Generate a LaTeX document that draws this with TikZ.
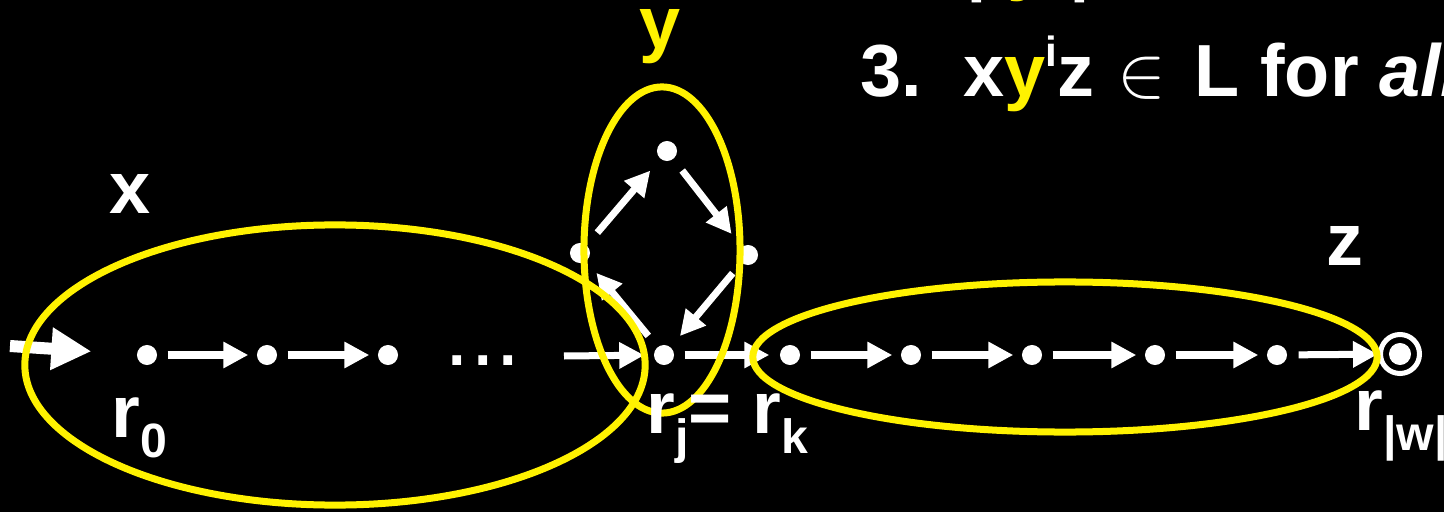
\documentclass[tikz,border=0pt]{standalone}
\usepackage{fontspec}
\setmainfont{Liberation Sans}
\usetikzlibrary{arrows.meta}
\newcommand\lowsub[1]{\raisebox{-0.2cm}{\fontsize{13.7}{14}\selectfont #1}}

\begin{document}
\begin{tikzpicture}[x=0.01cm,y=-0.01cm,
  vtx/.style={circle,fill=white,inner sep=0pt,minimum size=0.2cm},
  accept/.style={circle,draw=white,line width=0.05cm,inner sep=0pt,minimum size=0.39cm},
  arr/.style={white,line width=0.07cm,-{Triangle[length=0.25cm,width=0.25cm]}},
  ring/.style={yellow,line width=0.07cm},
  lbl/.style={text=white,inner sep=0pt,font=\fontsize{21}{25}\selectfont\bfseries}]
  \fill[black] (0,0) rectangle (1444,512);
  \useasboundingbox (0,0) rectangle (1444,512);
  % states on the path
  \node[vtx] (r0) at (147,355) {};
  \node[vtx] (q1) at (267,355) {};
  \node[vtx] (q2) at (388,355) {};
  \node[font=\fontsize{26}{26}\selectfont,text=white,inner sep=0pt,anchor=base west] (gap) at (444,365) {...};
  \coordinate (gapend) at (564,356);
  \node[vtx] (rj) at (664,355) {};
  % loop
  \node[vtx] (cl) at (580,253) {};
  \node[vtx] (ct) at (667,151) {};
  \node[vtx] (cr) at (748,255) {};
  \foreach \x [count=\i] in {790,911,1032,1155,1277}
    \node[vtx] (z\i) at (\x,355) {};
  \node[accept] (rw) at (1400,354) {};
  \fill[white] (rw) circle (0.11cm);
  % transitions
  \coordinate (start) at (10,346);
  \draw[arr,line width=0.12cm,-{Triangle[length=0.4cm,width=0.4cm]},shorten >=0.45cm] (start) -- (r0);
  \draw[arr,shorten <=0.1cm,shorten >=0.08cm] (r0) -- (q1);
  \draw[arr,shorten <=0.1cm,shorten >=0.08cm] (q1) -- (q2);
  \draw[arr,shorten >=0.09cm] (gapend) -- (rj);
  \draw[arr,shorten <=0.1cm,shorten >=0.1cm] (rj) -- (z1);
  \foreach \i/\j in {1/2,2/3,3/4,4/5}
    \draw[arr,shorten <=0.1cm,shorten >=0.08cm] (z\i) -- (z\j);
  \draw[arr,shorten <=0.11cm] (z5) -- (rw);
  \draw[arr,shorten <=0.16cm,shorten >=0.15cm] (cl) -- (ct);
  \draw[arr,shorten <=0.14cm,shorten >=0.16cm] (ct) -- (cr);
  \draw[arr,shorten <=0.13cm,shorten >=0.14cm] (cr) -- (rj);
  \draw[arr,shorten <=0.14cm,shorten >=0.15cm] (rj) -- (cl);
  % x, y, z
  \draw[ring] (335,365) ellipse [x radius=3.1cm,y radius=1.4cm];
  \draw[ring] (662,250) ellipse [x radius=0.78cm,y radius=1.63cm];
  \draw[ring] (1065,357) ellipse [x radius=3.12cm,y radius=0.75cm];
  \node[lbl,anchor=base] (xl) at (130,213) {x};
  \node[lbl,anchor=base,text=yellow] (yl) at (660,48) {y};
  \node[lbl,anchor=base] (zl) at (1345,265) {z};
  \node[lbl,anchor=base west] (r0l) at (111,437) {r\lowsub{0}};
  \node[lbl,anchor=base west] (rjl) at (646,433) {r\lowsub{j}= r\lowsub{k}};
  \node[lbl,anchor=base west] (rwl) at (1354,430) {r\lowsub{|w|}};
  % pumping condition
  \node[lbl,anchor=base west] (ylen) at (966,-14) {| \textcolor{yellow}{y} |};
  \node[lbl,anchor=base west] (cond) at (860,97) {3.\ \ x\textcolor{yellow}{y}\raisebox{0.3cm}{\fontsize{12}{12}\selectfont i}z\hspace{0.03cm} $\in$\hspace{0.08cm} L for \textit{all}};
\end{tikzpicture}
\end{document}
